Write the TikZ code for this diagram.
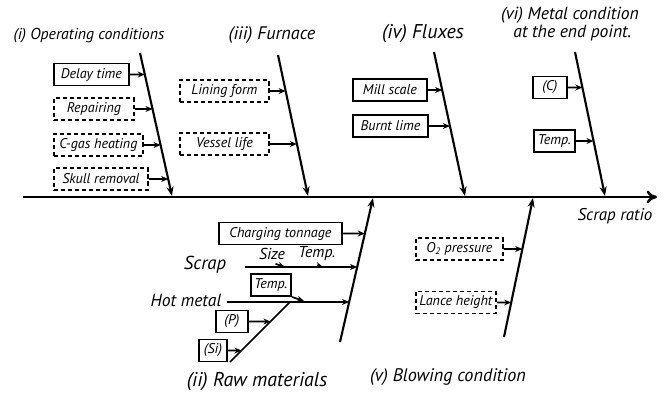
\documentclass[tikz,border=0pt]{standalone}
\usepackage{fontspec}
\setmainfont{PT Sans}
\usepackage{tikz}
\usetikzlibrary{arrows.meta,calc}

\tikzset{
  cause/.style={draw, line width=1.5pt, anchor=west, minimum height=0.66cm, inner sep=2pt,
    font=\fontsize{12}{14}\selectfont\itshape},
  weak/.style={cause, dash pattern=on 3.5pt off 2.5pt},
  bone/.style={line width=1.8pt, -{Stealth[length=8pt,width=6pt]}},
  twig/.style={line width=1.4pt, -{Stealth[length=6pt,width=5pt]}},
  title/.style={font=\fontsize{#1}{#1}\selectfont\itshape},
  title/.default=14,
}

\begin{document}
\begin{tikzpicture}[x=0.03cm, y=-0.03cm]
\useasboundingbox (0,0) rectangle (672,392);
% main spine
\coordinate (s0) at (23,197);
\coordinate (s1) at (657,197);
\draw[line width=2.2pt, -{To[length=9pt,width=11pt]}] (s0) -- (s1);
\node[title=14.5] (effect) at (615,216) {Scrap ratio};

% upper bones: (i), (iii), (iv), (vi)
\coordinate (ta) at (140,53);  \coordinate (ba) at (172,196);
\coordinate (tc) at (278,55);  \coordinate (bc) at (308,196);
\coordinate (td) at (434,52);  \coordinate (bd) at (465,196);
\coordinate (tf) at (575,52);  \coordinate (bf) at (605,196);
\foreach \t/\b in {ta/ba, tc/bc, td/bd, tf/bf}
  \draw[bone] (\t) -- (\b);
% lower bones: (ii), (v)
\coordinate (bb) at (340,342); \coordinate (tb) at (373,198);
\coordinate (be) at (504,337); \coordinate (te) at (533,198);
\foreach \b/\t in {bb/tb, be/te}
  \draw[bone] (\b) -- (\t);

% group titles
\node[title=13.5] (gi) at (89,36) {(i) Operating conditions};
\node[title=15.5] (giii) at (272,35) {(iii) Furnace};
\node[title=17] (giv) at (423,34) {(iv) Fluxes};
\node[title=15, align=left, inner sep=0pt] (gvi) at (570,24) {(vi) Metal condition\\\hspace{0.7em}at the end point.};
\node[title=17] (gii) at (257,382) {(ii) Raw materials};
\node[title=15.5] (gv) at (448,377) {(v) Blowing condition};

% (i) operating conditions
\node[cause, minimum width=2.25cm] (delay) at (53,74.5) {Delay time};
\node[weak, minimum width=2.4cm] (repair) at (53,109) {Repairing};
\node[weak, minimum width=2.67cm] (cgas) at (53,145) {C-gas heating};
\node[weak, minimum width=2.82cm] (skull) at (53,179) {Skull removal};
% (iii) furnace
\node[weak, minimum width=2.67cm] (lining) at (179,91) {Lining form};
\node[weak, minimum width=2.67cm] (vessel) at (179,144) {Vessel life};
% (iv) fluxes
\node[cause, minimum width=2.22cm] (mill) at (352,90) {Mill scale};
\node[cause, minimum width=2.25cm] (lime) at (352,126) {Burnt lime};
% (vi) end point
\node[cause, minimum width=1.02cm] (carbon) at (532,87.5) {(C)};
\node[cause, minimum width=1.23cm] (eptemp) at (533,141) {Temp.};
% (v) blowing
\node[weak, minimum width=2.61cm] (oxy) at (415,249) {O\textsubscript{2} pressure};
\node[weak, minimum width=2.4cm] (lance) at (415,302.5) {Lance height};
% (ii) raw materials
\node[cause, minimum width=3.69cm] (charge) at (218,233.5) {Charging tonnage};

\foreach \n/\t/\b in {delay/ta/ba, repair/ta/ba, cgas/ta/ba, skull/ta/ba,
    lining/tc/bc, vessel/tc/bc, mill/td/bd, lime/td/bd,
    carbon/tf/bf, eptemp/tf/bf, oxy/te/be, lance/te/be, charge/tb/bb}
  \draw[twig] (\n.east) -- (intersection of \t.center--\b.center and \n.east--\n.west);

% scrap branch
\node[title=16] (scrap) at (205,265) {Scrap};
\coordinate (sc0) at (245,267);
\coordinate (sc1) at (400,267);
\draw[twig] (sc0) -- (intersection of tb--bb and sc0--sc1);
\node[title=13.5] (size) at (272,254) {Size};
\node[title=13.5] (sctemp) at (317,254) {Temp.};
\coordinate (sa) at (285,267);
\coordinate (sb) at (323,267);
\draw[twig] ([xshift=3pt]size.south) -- (sa);
\draw[twig] (sctemp.south) -- (sb);

% hot metal branch
\node[title=15] (hot) at (186,300) {Hot metal};
\coordinate (hm0) at (227,302);
\coordinate (hm1) at (400,302);
\draw[twig] (hm0) -- (intersection of tb--bb and hm0--hm1);
\node[cause, minimum width=1.2cm] (hmtemp) at (250,285) {Temp.};
\coordinate (ha) at (304,301);
\draw[twig] (hmtemp.south east) -- (ha);
\coordinate (dg0) at (230,362);
\coordinate (dg1) at (290,302);
\draw[line width=1.4pt] (dg0) -- (dg1);
\node[cause, minimum width=0.96cm] (phos) at (215,321.5) {(P)};
\node[cause, minimum width=0.84cm] (sil) at (198,350.5) {(Si)};
\foreach \n in {phos, sil}
  \draw[twig] (\n.east) -- (intersection of dg0--dg1.center and \n.east--\n.west);
\end{tikzpicture}
\end{document}
